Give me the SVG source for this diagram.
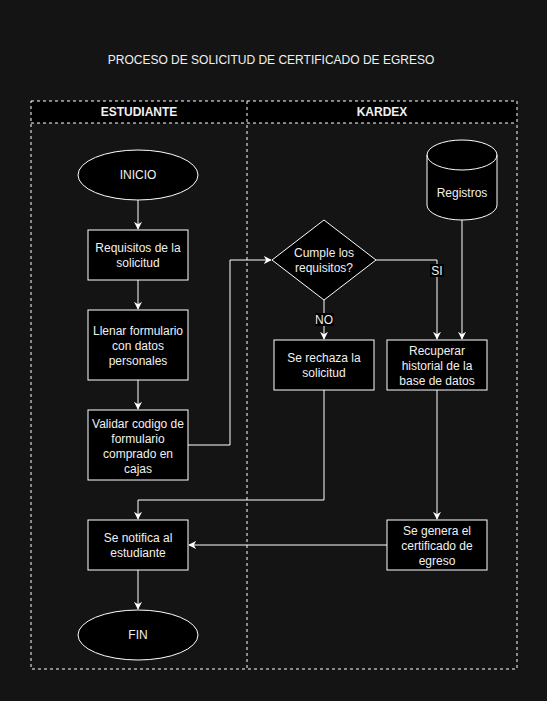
<svg xmlns="http://www.w3.org/2000/svg" width="547" height="701" viewBox="0 0 547 701">
<defs>
<marker id="arr" viewBox="0 0 10 10" refX="9" refY="5" markerWidth="8" markerHeight="8" markerUnits="userSpaceOnUse" orient="auto">
<path d="M0,0 L10,5 L0,10 L3,5 Z" fill="#ffffff"/>
</marker>
</defs>
<style>
.bg{fill:#141414}
.node{fill:#000000;stroke:#ffffff;stroke-width:1}
.lane{fill:none;stroke:#ffffff;stroke-width:1;stroke-dasharray:3 3}
.hdr{fill:#000000}
.t{font-family:"Liberation Sans",Arial,sans-serif;font-size:12px;fill:#f0f0f0;text-anchor:middle}
.b{font-weight:bold}
.edge{fill:none;stroke:#ffffff;stroke-width:1;marker-end:url(#arr)}
.lbl{fill:#000000}
</style>
<rect class="bg" x="0" y="0" width="547" height="701"/>
<text class="t" x="271" y="64">PROCESO DE SOLICITUD DE CERTIFICADO DE EGRESO</text>

<g id="pool">
<rect class="hdr" x="31" y="101" width="486" height="22"/>
<rect class="lane" x="31" y="101" width="486" height="568"/>
<line class="lane" x1="31" y1="123" x2="517" y2="123"/>
<line class="lane" x1="247" y1="101" x2="247" y2="669"/>
<text class="t b" x="139" y="116">ESTUDIANTE</text>
<text class="t b" x="382" y="116">KARDEX</text>
</g>

<g id="connectors">
<line class="edge" x1="138" y1="200" x2="138" y2="229"/>
<line class="edge" x1="138" y1="280" x2="138" y2="309"/>
<line class="edge" x1="138" y1="380" x2="138" y2="409"/>
<polyline class="edge" points="188,445 230,445 230,260 271,260"/>
<polyline class="edge" points="376,260 437,260 437,339"/>
<line class="edge" x1="462" y1="220" x2="462" y2="339"/>
<line class="edge" x1="324" y1="300" x2="324" y2="339"/>
<polyline class="edge" points="324,390 324,500 138,500 138,519"/>
<line class="edge" x1="437" y1="390" x2="437" y2="519"/>
<line class="edge" x1="387" y1="545" x2="189" y2="545"/>
<line class="edge" x1="138" y1="570" x2="138" y2="609"/>
<rect class="lbl" x="430" y="264" width="14" height="13"/>
<text class="t" x="437" y="275">SI</text>
<rect class="lbl" x="315" y="313" width="19" height="13"/>
<text class="t" x="324" y="324">NO</text>
</g>

<g id="inicio">
<ellipse class="node" cx="138" cy="175" rx="60" ry="25"/>
<text class="t" x="138" y="179">INICIO</text>
</g>
<g id="requisitos">
<rect class="node" x="88" y="230" width="100" height="50"/>
<text class="t" x="138" y="252">Requisitos de la</text>
<text class="t" x="138" y="267">solicitud</text>
</g>
<g id="llenar">
<rect class="node" x="88" y="310" width="100" height="70"/>
<text class="t" x="138" y="335">Llenar formulario</text>
<text class="t" x="138" y="350">con datos</text>
<text class="t" x="138" y="365">personales</text>
</g>
<g id="validar">
<rect class="node" x="88" y="410" width="100" height="70"/>
<text class="t" x="138" y="428">Validar codigo de</text>
<text class="t" x="138" y="443">formulario</text>
<text class="t" x="138" y="458">comprado en</text>
<text class="t" x="138" y="473">cajas</text>
</g>
<g id="cumple">
<polygon class="node" points="324,220 376,260 324,300 272,260"/>
<text class="t" x="324" y="257">Cumple los</text>
<text class="t" x="324" y="272">requisitos?</text>
</g>
<g id="registros">
<path class="node" d="M427,155 A35,15 0 0 1 497,155 L497,205 A35,15 0 0 1 427,205 Z"/>
<path fill="none" stroke="#ffffff" d="M427,155 A35,15 0 0 0 497,155"/>
<text class="t" x="462" y="197">Registros</text>
</g>
<g id="rechaza">
<rect class="node" x="274" y="340" width="100" height="50"/>
<text class="t" x="324" y="362">Se rechaza la</text>
<text class="t" x="324" y="377">solicitud</text>
</g>
<g id="recuperar">
<rect class="node" x="387" y="340" width="100" height="50"/>
<text class="t" x="437" y="355">Recuperar</text>
<text class="t" x="437" y="370">historial de la</text>
<text class="t" x="437" y="385">base de datos</text>
</g>
<g id="notifica">
<rect class="node" x="88" y="520" width="100" height="50"/>
<text class="t" x="138" y="542">Se notifica al</text>
<text class="t" x="138" y="557">estudiante</text>
</g>
<g id="genera">
<rect class="node" x="387" y="520" width="100" height="50"/>
<text class="t" x="437" y="535">Se genera el</text>
<text class="t" x="437" y="550">certificado de</text>
<text class="t" x="437" y="565">egreso</text>
</g>
<g id="fin">
<ellipse class="node" cx="138" cy="635" rx="60" ry="25"/>
<text class="t" x="138" y="639">FIN</text>
</g>
</svg>
